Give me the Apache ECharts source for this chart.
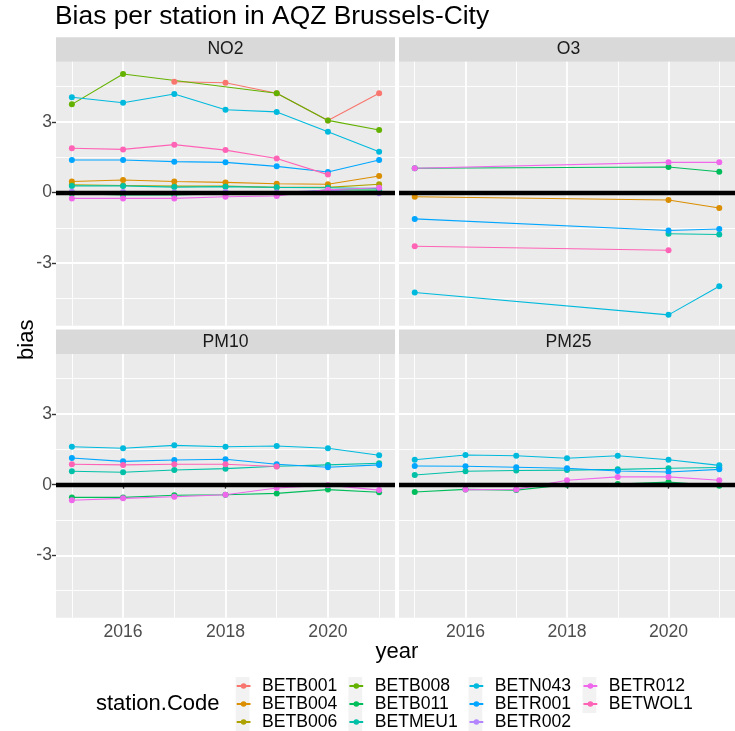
<!DOCTYPE html>
<html><head><meta charset="utf-8">
<script src="https://cdn.jsdelivr.net/npm/echarts@6/dist/echarts.min.js"></script>
<style>html,body{margin:0;padding:0;background:#fff}#c{width:735px;height:731px}</style>
</head><body><div id="c"></div>
<script>
// ---------- data ----------
const years = [2015, 2016, 2017, 2018, 2019, 2020, 2021];
const stations = ['BETB001','BETB004','BETB006','BETB008','BETB011','BETMEU1','BETN043','BETR001','BETR002','BETR012','BETWOL1'];
const stationColors = ['#F8766D','#DB8E00','#AEA200','#64B200','#00BD5C','#00C1A7','#00BADE','#00A6FF','#B385FF','#EF67EB','#FF63B6'];
const pollutants = ['NO2','O3','PM10','PM25'];

const no2 = {
  BETB001: [null, null, 4.70, 4.66, 4.21, 3.06, 4.21],
  BETB004: [0.47, 0.53, 0.47, 0.43, 0.37, 0.35, 0.70],
  BETB006: [0.33, 0.30, 0.27, 0.27, 0.22, 0.22, 0.35],
  BETB008: [3.74, 5.03, null, null, 4.21, 3.06, 2.65],
  BETB011: [-0.05, -0.10, -0.10, -0.05, -0.08, 0.12, 0.10],
  BETMEU1: [0.28, 0.28, 0.23, 0.25, 0.22, 0.20, 0.17],
  BETN043: [4.04, 3.81, 4.18, 3.51, 3.42, 2.58, 1.73],
  BETR001: [1.38, 1.38, 1.31, 1.28, 1.11, 0.87, 1.38],
  BETR002: [0.03, 0.02, 0.00, 0.02, 0.00, 0.10, -0.03],
  BETR012: [-0.25, -0.25, -0.25, -0.18, -0.15, 0.12, 0.20],
  BETWOL1: [1.88, 1.83, 2.03, 1.80, 1.44, 0.76, null]
};
const o3 = {
  BETB004: [-0.18, null, null, null, null, -0.32, -0.66],
  BETB011: [1.03, null, null, null, null, 1.08, 0.88],
  BETMEU1: [null, null, null, null, null, -1.75, -1.78],
  BETN043: [-4.24, null, null, null, null, -5.19, -3.98],
  BETR001: [-1.12, null, null, null, null, -1.61, -1.55],
  BETR012: [1.03, null, null, null, null, 1.28, 1.28],
  BETWOL1: [-2.28, null, null, null, null, -2.45, null]
};
const pm10 = {
  BETB011: [-0.54, -0.54, -0.45, -0.43, -0.37, -0.21, -0.32],
  BETMEU1: [0.57, 0.53, 0.62, 0.68, 0.78, 0.84, 0.91],
  BETN043: [1.61, 1.55, 1.67, 1.61, 1.64, 1.55, 1.25],
  BETR001: [1.13, 0.99, 1.05, 1.08, 0.87, 0.74, 0.84],
  BETR012: [-0.66, -0.58, -0.51, -0.43, -0.14, -0.02, -0.23],
  BETWOL1: [0.87, 0.84, 0.87, 0.87, 0.77, null, null]
};
const pm25 = {
  BETB011: [-0.31, -0.20, -0.23, 0.00, 0.03, 0.11, -0.05],
  BETMEU1: [0.41, 0.57, 0.60, 0.62, 0.65, 0.70, 0.73],
  BETN043: [1.06, 1.26, 1.23, 1.12, 1.23, 1.06, 0.82],
  BETR001: [0.79, 0.78, 0.74, 0.70, 0.58, 0.54, 0.65],
  BETR012: [null, -0.21, -0.20, 0.19, 0.33, 0.33, 0.19]
};
const xTicks = [2016, 2018, 2020];
const xMinorTicks = [2015, 2017, 2019, 2021];
const yTicks = [-3, 0, 3];
const yMinorTicks = [-4.5, -1.5, 1.5, 4.5];
const legendColumns = [['BETB001','BETB004','BETB006'],['BETB008','BETB011','BETMEU1'],['BETN043','BETR001','BETR002'],['BETR012','BETWOL1']];

// ---------- layout ----------
const FONT = "'Liberation Sans', Arial, Helvetica, sans-serif";
const XMIN = 2014.69, XMAX = 2021.31, YMIN = -5.65, YMAX = 5.55;
const GRIDS = [
  {left: 56, top: 61.7, width: 339, height: 264},
  {left: 399, top: 61.7, width: 339, height: 264},
  {left: 56, top: 354, width: 339, height: 263.7},
  {left: 399, top: 354, width: 339, height: 263.7}
];
const STRIP_H = 24.4;
const LEG_LEFTS = [235.7, 348.4, 468.5, 582.5];
const LEG_KEY_W = 13.8;
const LEG_TOP = 677, LEG_ROW = 18;

const panelData = [no2, o3, pm10, pm25];
const colorOf = s => stationColors[stations.indexOf(s)];

const grid = GRIDS.map(g => ({left: g.left, top: g.top, width: g.width, height: g.height,
  show: true, backgroundColor: '#EBEBEB', borderWidth: 0, containLabel: false}));

const xAxis = [], yAxis = [];
GRIDS.forEach((g, p) => {
  const bottom = p >= 2, leftCol = p % 2 === 0;
  xAxis.push({type: 'value', gridIndex: p, min: XMIN, max: XMAX, position: 'bottom',
    axisLine: {show: false},
    axisTick: {show: bottom, customValues: xTicks, length: 4, lineStyle: {color: '#333', width: 1.4}},
    axisLabel: {show: bottom, customValues: xTicks, margin: 5, color: '#4D4D4D', fontSize: 17.6, fontFamily: FONT,
      formatter: v => String(v)},
    splitLine: {show: true, lineStyle: {color: '#FFFFFF', width: 1.8}}});
  xAxis.push({type: 'value', gridIndex: p, min: XMIN, max: XMAX, position: 'top',
    axisLine: {show: false}, axisTick: {show: false, customValues: xMinorTicks},
    axisLabel: {show: false, customValues: xMinorTicks},
    splitLine: {show: true, lineStyle: {color: '#FFFFFF', width: 0.9}}});
  yAxis.push({type: 'value', gridIndex: p, min: YMIN, max: YMAX, position: 'left',
    axisLine: {show: false},
    axisTick: {show: leftCol, customValues: yTicks, length: 4, lineStyle: {color: '#333', width: 1.4}},
    axisLabel: {show: leftCol, customValues: yTicks, margin: 4, color: '#4D4D4D', fontSize: 17.6, fontFamily: FONT,
      formatter: v => String(v)},
    splitLine: {show: true, lineStyle: {color: '#FFFFFF', width: 1.8}}});
  yAxis.push({type: 'value', gridIndex: p, min: YMIN, max: YMAX, position: 'right',
    axisLine: {show: false}, axisTick: {show: false, customValues: yMinorTicks},
    axisLabel: {show: false, customValues: yMinorTicks},
    splitLine: {show: true, lineStyle: {color: '#FFFFFF', width: 0.9}}});
});

const series = [];
panelData.forEach((pd, p) => {
  stations.forEach(s => {
    const arr = pd[s];
    if (!arr) return;
    const c = colorOf(s);
    series.push({type: 'line', name: s, xAxisIndex: 2 * p, yAxisIndex: 2 * p,
      data: years.map((y, i) => [y, arr[i]]).filter(d => d[1] !== null),
      symbol: 'circle', symbolSize: 6, showSymbol: true, animation: false,
      lineStyle: {color: c, width: 1.1}, itemStyle: {color: c},
      emphasis: {disabled: true}, z: 2});
  });
  series.push({type: 'line', name: 'zero' + p, xAxisIndex: 2 * p, yAxisIndex: 2 * p, data: [],
    animation: false, z: 10,
    markLine: {silent: true, symbol: 'none', animation: false, label: {show: false},
      lineStyle: {color: '#000', width: 4.3, type: 'solid'}, emphasis: {disabled: true},
      data: [{yAxis: 0}]}});
});

const graphic = [];
GRIDS.forEach((g, p) => {
  graphic.push({type: 'rect', silent: true, z: 0,
    shape: {x: g.left, y: g.top - STRIP_H, width: g.width, height: STRIP_H},
    style: {fill: '#D9D9D9'}});
  graphic.push({type: 'text', silent: true, z: 1,
    x: g.left + g.width / 2, y: g.top - STRIP_H / 2,
    style: {text: pollutants[p], fill: '#1A1A1A', font: '17.6px ' + FONT, textAlign: 'center', textVerticalAlign: 'middle'}});
});
legendColumns.forEach((col, i) => {
  graphic.push({type: 'rect', silent: true, z: 0,
    shape: {x: LEG_LEFTS[i], y: LEG_TOP, width: LEG_KEY_W, height: col.length * LEG_ROW},
    style: {fill: '#F2F2F2'}});
});
graphic.push({type: 'text', silent: true, x: 397, y: 652,
  style: {text: 'year', fill: '#000', font: '22px ' + FONT, textAlign: 'center', textVerticalAlign: 'middle'}});
graphic.push({type: 'text', silent: true, x: 27, y: 339.7, rotation: Math.PI / 2,
  style: {text: 'bias', fill: '#000', font: '22px ' + FONT, textAlign: 'center', textVerticalAlign: 'middle'}});
graphic.push({type: 'text', silent: true, x: 96, y: 704,
  style: {text: 'station.Code', fill: '#000', font: '22px ' + FONT, textAlign: 'left', textVerticalAlign: 'middle'}});

const legend = legendColumns.map((col, i) => ({
  data: col, orient: 'vertical', left: LEG_LEFTS[i], top: LEG_TOP, padding: 0, itemGap: 0,
  itemWidth: LEG_KEY_W, itemHeight: 7, selectedMode: false,
  textStyle: {fontSize: 17.6, color: '#000', fontFamily: FONT, lineHeight: LEG_ROW, padding: [0, 0, 0, 6.5]}
}));

const chart = echarts.init(document.getElementById('c'), null, {renderer: 'canvas'});
chart.setOption({
  animation: false,
  backgroundColor: '#FFFFFF',
  title: {text: 'Bias per station in AQZ Brussels-City', left: 55, top: 4, padding: 0,
    textStyle: {fontSize: 26.4, fontWeight: 'normal', color: '#000', fontFamily: FONT}},
  grid, xAxis, yAxis, series, legend, graphic
});
</script></body></html>
